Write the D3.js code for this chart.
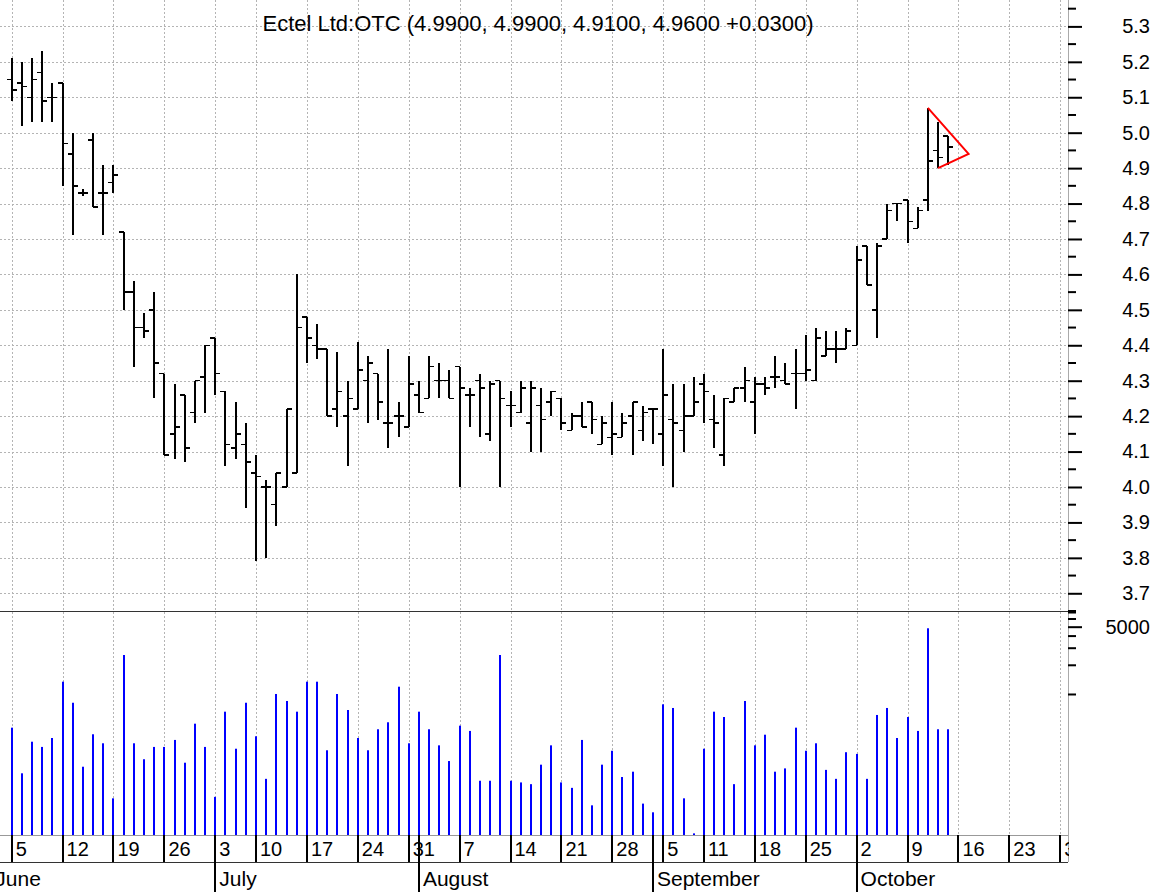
<!DOCTYPE html>
<html>
<head>
<meta charset="utf-8">
<script src="https://cdn.jsdelivr.net/npm/d3@7"></script>
<style>
    body { margin: 0; background: #fff; }
    svg { display: block; font-family: "Liberation Sans", Arial, sans-serif; }
</style>
</head>
<body>
<svg id="chart"></svg>
<script>
// daily bars, one entry per trading day starting 2006-06-05
const open  = [5.15,5.14,5.10,5.17,5.10, 5.14,4.94,4.83,4.98,4.83, 4.86,4.72,4.55,4.45,4.50, 4.32,4.15,4.26,4.21,4.31,
               4.42,4.27,4.11,4.12, 4.04,4.00,3.95,4.00,4.04, 4.48,4.40,4.39,4.22,4.20, 4.22,4.30,4.32,4.18,4.20,
               4.17,4.26,4.25,4.30,4.30, 4.34,4.26,4.30,4.15,4.30, 4.23,4.21,4.18,4.23,4.24, 4.25,4.16,4.20,4.24,4.12,
               4.14,4.14,4.20,4.16,4.22, 4.15,4.19,4.16,4.20, 4.29,4.19,4.09,4.24,4.28, 4.24,4.29,4.31,4.30,4.32,
               4.32,4.30,4.37,4.39,4.39, 4.40,4.68,4.50,4.70,4.80, 4.81,4.73,4.81,4.95,4.99];
const high  = [5.21,5.20,5.21,5.23,5.14, 5.14,5.00,4.84,5.00,4.91, 4.91,4.72,4.58,4.49,4.55, 4.32,4.29,4.26,4.30,4.40,
               4.42,4.27,4.24,4.18, 4.09,4.02,4.04,4.22,4.60, 4.48,4.46,4.39,4.38,4.30, 4.41,4.37,4.32,4.39,4.24,
               4.37,4.30,4.37,4.35,4.33, 4.34,4.28,4.32,4.30,4.30, 4.27,4.30,4.30,4.28,4.27, 4.25,4.21,4.24,4.24,4.20,
               4.24,4.21,4.24,4.23,4.22, 4.39,4.29,4.29,4.31, 4.32,4.26,4.25,4.28,4.34, 4.31,4.31,4.37,4.35,4.39,
               4.43,4.45,4.44,4.44,4.45, 4.68,4.68,4.69,4.80,4.80, 4.81,4.79,5.07,5.03,4.99];
const low   = [5.09,5.02,5.03,5.03,5.03, 4.85,4.71,4.82,4.79,4.71, 4.83,4.50,4.34,4.42,4.25, 4.09,4.08,4.07,4.18,4.21,
               4.26,4.06,4.08,3.94, 3.79,3.80,3.89,4.00,4.04, 4.35,4.36,4.20,4.17,4.06, 4.22,4.18,4.19,4.11,4.14,
               4.17,4.21,4.25,4.25,4.25, 4.00,4.17,4.14,4.13,4.00, 4.17,4.21,4.10,4.10,4.20, 4.16,4.16,4.17,4.15,4.12,
               4.09,4.14,4.09,4.13,4.12, 4.06,4.00,4.10,4.20, 4.18,4.11,4.06,4.24,4.24, 4.15,4.26,4.28,4.29,4.22,
               4.30,4.30,4.37,4.35,4.39, 4.40,4.57,4.42,4.70,4.75, 4.69,4.73,4.78,4.90,4.91];
const close = [5.12,5.13,5.15,5.09,5.10, 4.97,4.85,4.83,4.79,4.83, 4.88,4.55,4.45,4.44,4.35, 4.09,4.17,4.11,4.30,4.40,
               4.32,4.12,4.15,4.07, 4.03,4.00,4.04,4.22,4.45, 4.42,4.39,4.20,4.27,4.25, 4.33,4.35,4.24,4.18,4.20,
               4.29,4.21,4.34,4.30,4.25, 4.28,4.26,4.28,4.29,4.25, 4.23,4.28,4.28,4.19,4.27, 4.18,4.20,4.17,4.19,4.18,
               4.15,4.18,4.24,4.21,4.22, 4.26,4.18,4.20,4.24, 4.27,4.18,4.25,4.28,4.30, 4.29,4.28,4.31,4.29,4.32,
               4.33,4.42,4.39,4.39,4.44, 4.64,4.57,4.68,4.78,4.80, 4.75,4.78,4.92,4.93,4.96];
const volume = [455,154,326,288,356, 1355,822,180,389,314, 85,2553,314,215,288, 288,340,198,500,288,
                88,665,276,822, 371,135,1012,857,665, 1355,1355,266,1012,692, 356,266,438,517,1203,
                314,665,438,299,206, 477,421,129,129,2553, 129,124,119,189,299, 124,109,340,72,189,
                263,141,160,75,61, 792,726,85,37, 276,665,586,119,857, 299,385,160,173,455,
                263,314,167,135,254, 244,135,615,726,356, 586,421,4815,438,438];

const priceTicks = [3.7,3.8,3.9,4.0,4.1,4.2,4.3,4.4,4.5,4.6,4.7,4.8,4.9,5.0,5.1,5.2,5.3];
const volMajor = [5000];
const volMinor = [1000,2000,3000,4000,6000,7000];
const monthNames = ['January','February','March','April','May','June','July',
                    'August','September','October','November','December'];
const holidays = ['2006-07-04', '2006-09-04'];
// pennant drawn on the last bars: [day index, price]
const flagPoints = [[90, 5.07], [94, 4.94], [91, 4.90]];
const title = 'Ectel Ltd:OTC (4.9900, 4.9900, 4.9100, 4.9600 +0.0300)';

class OhlcChart {
    constructor (config) {
        this.config = {
            parent: config.parent,
            width: config.width || 1163,
            height: config.height || 892
        };
        this.init();
    }

    init() {
        let self = this;
        const W = self.config.width, H = self.config.height;

        self.svg = d3.select(self.config.parent)
            .attr('width', W)
            .attr('height', H);

        self.axisX = 1068;      // right price axis
        self.priceBottom = 611;
        self.volBottom = 835;
        self.dateBottom = 862;

        // trading calendar Jun 1 .. Oct 31 2006, index 0 = Jun 5
        const fmt = d3.timeFormat('%Y-%m-%d');
        self.days = d3.timeDay.range(new Date(2006, 5, 1), new Date(2006, 10, 1))
            .filter(d => d.getDay() > 0 && d.getDay() < 6 && !holidays.includes(fmt(d)));
        self.offset = 2;

        self.x = d3.scaleLinear()
            .domain([0, 103])
            .range([11.7, 1060.2]);

        self.yPrice = d3.scaleLinear()
            .domain([3.65, 5.3745])
            .range([self.priceBottom, 0]);

        self.yVol = d3.scaleLog()
            .domain([35.6, 7256])
            .range([self.volBottom, self.priceBottom]);

        self.data = open.map((o, i) => ({
            i: i, date: self.days[i + self.offset],
            o: o, h: high[i], l: low[i], c: close[i], v: volume[i]
        }));

        self.render();
    }

    render() {
        let self = this;
        const x = self.x, yP = self.yPrice, yV = self.yVol;
        const days = self.days, off = self.offset;

        const weeks = [], months = [];
        days.forEach((d, k) => {
            if (k > 0 && d.getDay() < days[k - 1].getDay()) weeks.push({ idx: k - off, d: d });
            if (k === 0 || d.getMonth() !== days[k - 1].getMonth()) months.push({ idx: k - off, d: d });
        });

        // grid
        self.svg.append('g').selectAll('line')
            .data(priceTicks)
            .join('line')
            .attr('x1', 0).attr('x2', self.axisX)
            .attr('y1', d => Math.round(yP(d)) + 0.5).attr('y2', d => Math.round(yP(d)) + 0.5)
            .attr('stroke', '#b4b4b4')
            .attr('stroke-dasharray', '2,2');

        self.svg.append('g').selectAll('line')
            .data(weeks)
            .join('line')
            .attr('x1', d => Math.round(x(d.idx)) + 0.5).attr('x2', d => Math.round(x(d.idx)) + 0.5)
            .attr('y1', 0).attr('y2', self.volBottom)
            .attr('stroke', '#b4b4b4')
            .attr('stroke-dasharray', '2,2');

        // frame lines
        const frame = self.svg.append('g').attr('shape-rendering', 'crispEdges');
        frame.append('line').attr('x1', 0).attr('x2', self.axisX)
            .attr('y1', self.priceBottom + 0.5).attr('y2', self.priceBottom + 0.5).attr('stroke', '#333');
        frame.append('line').attr('x1', 0).attr('x2', self.axisX)
            .attr('y1', self.volBottom + 0.5).attr('y2', self.volBottom + 0.5).attr('stroke', '#999');
        frame.append('line').attr('x1', 0).attr('x2', self.axisX)
            .attr('y1', self.dateBottom + 0.5).attr('y2', self.dateBottom + 0.5).attr('stroke', '#333');
        frame.append('line').attr('x1', self.axisX + 0.5).attr('x2', self.axisX + 0.5)
            .attr('y1', 0).attr('y2', self.dateBottom).attr('stroke', '#aaa');

        // volume
        self.svg.append('g').selectAll('rect')
            .data(self.data)
            .join('rect')
            .attr('x', d => Math.round(x(d.i)) - 1)
            .attr('width', 2)
            .attr('y', d => yV(d.v))
            .attr('height', d => self.volBottom - yV(d.v))
            .attr('fill', '#0000ff');

        // price bars
        const bars = self.svg.append('g')
            .attr('stroke', '#000')
            .attr('shape-rendering', 'crispEdges');
        bars.selectAll('.hl')
            .data(self.data)
            .join('line')
            .attr('class', 'hl')
            .attr('x1', d => Math.round(x(d.i))).attr('x2', d => Math.round(x(d.i)))
            .attr('y1', d => yP(d.h)).attr('y2', d => yP(d.l))
            .attr('stroke-width', 2);
        bars.selectAll('.op')
            .data(self.data)
            .join('line')
            .attr('class', 'op')
            .attr('x1', d => Math.round(x(d.i)) - 5).attr('x2', d => Math.round(x(d.i)))
            .attr('y1', d => yP(d.o)).attr('y2', d => yP(d.o))
            .attr('stroke-width', 1.5);
        bars.selectAll('.cl')
            .data(self.data)
            .join('line')
            .attr('class', 'cl')
            .attr('x1', d => Math.round(x(d.i))).attr('x2', d => Math.round(x(d.i)) + 5)
            .attr('y1', d => yP(d.c)).attr('y2', d => yP(d.c))
            .attr('stroke-width', 1.5);

        // pennant
        self.svg.append('path')
            .attr('d', d3.line().x(d => x(d[0])).y(d => yP(d[1]))(flagPoints))
            .attr('fill', 'none')
            .attr('stroke', '#ff0000')
            .attr('stroke-width', 2);

        // price axis
        const minor = priceTicks.map(d => d - 0.05).concat([5.35]);
        const pAxis = self.svg.append('g')
            .attr('transform', `translate(${self.axisX},0)`)
            .call(d3.axisRight(yP).tickValues(priceTicks).tickSize(14).tickFormat(d3.format('.1f')));
        pAxis.select('.domain').remove();
        pAxis.selectAll('line').attr('stroke', '#000').attr('stroke-width', 2);
        pAxis.selectAll('text')
            .attr('x', 82).attr('text-anchor', 'end')
            .attr('font-size', 20).attr('font-family', 'Liberation Sans, Arial, sans-serif');
        pAxis.append('g').selectAll('line')
            .data(minor)
            .join('line')
            .attr('x1', 0).attr('x2', 8)
            .attr('y1', d => yP(d)).attr('y2', d => yP(d))
            .attr('stroke', '#000').attr('stroke-width', 2);

        // volume axis
        const vAxis = self.svg.append('g')
            .attr('transform', `translate(${self.axisX},0)`)
            .call(d3.axisRight(yV).tickValues(volMajor).tickSize(14).tickFormat(d3.format('d')));
        vAxis.select('.domain').remove();
        vAxis.selectAll('line').attr('stroke', '#000').attr('stroke-width', 2);
        vAxis.selectAll('text')
            .attr('x', 82).attr('text-anchor', 'end')
            .attr('font-size', 20).attr('font-family', 'Liberation Sans, Arial, sans-serif');
        vAxis.append('g').selectAll('line')
            .data(volMinor)
            .join('line')
            .attr('x1', 0).attr('x2', 8)
            .attr('y1', d => yV(d)).attr('y2', d => yV(d))
            .attr('stroke', '#000').attr('stroke-width', 2);

        // date axis
        const dateAxis = self.svg.append('g');
        dateAxis.selectAll('.wk')
            .data(weeks)
            .join('line')
            .attr('class', 'wk')
            .attr('x1', d => Math.round(x(d.idx))).attr('x2', d => Math.round(x(d.idx)))
            .attr('y1', self.volBottom).attr('y2', self.dateBottom)
            .attr('stroke', '#000').attr('stroke-width', 2);
        dateAxis.selectAll('.wkl')
            .data(weeks)
            .join('text')
            .attr('class', 'wkl')
            .attr('x', d => x(d.idx) + 4)
            .attr('y', self.dateBottom - 6)
            .attr('font-size', 20)
            .text(d => d.d.getDate());
        dateAxis.selectAll('.mo')
            .data(months)
            .join('line')
            .attr('class', 'mo')
            .attr('x1', d => Math.round(x(d.idx))).attr('x2', d => Math.round(x(d.idx)))
            .attr('y1', self.volBottom).attr('y2', self.config.height)
            .attr('stroke', '#000').attr('stroke-width', 2);
        dateAxis.selectAll('.mol')
            .data(months)
            .join('text')
            .attr('class', 'mol')
            .attr('x', d => x(d.idx) + 4)
            .attr('y', self.config.height - 6)
            .attr('font-size', 21)
            .text(d => monthNames[d.d.getMonth()]);

        // white mask right of the axis for the date row overflow
        self.svg.append('rect')
            .attr('x', self.axisX + 1).attr('y', self.volBottom)
            .attr('width', self.config.width - self.axisX).attr('height', self.config.height - self.volBottom)
            .attr('fill', '#fff');

        self.svg.append('text')
            .attr('x', 538)
            .attr('y', 31)
            .attr('text-anchor', 'middle')
            .attr('font-size', 22)
            .text(title);
    }
}

new OhlcChart({ parent: '#chart', width: 1163, height: 892 });
</script>
</body>
</html>
